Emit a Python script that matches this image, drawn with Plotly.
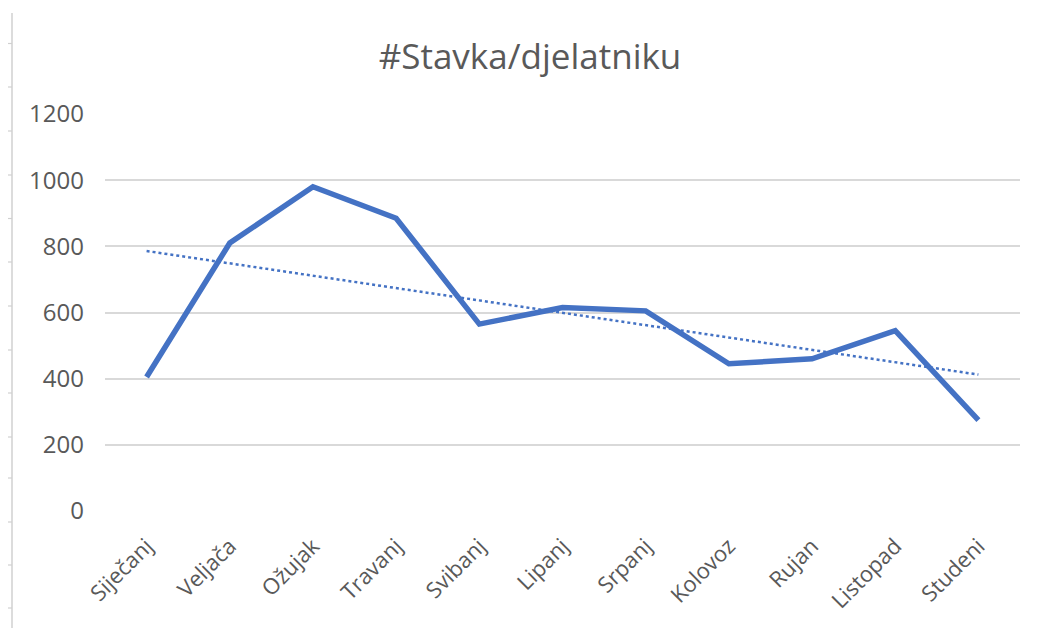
import numpy as np
import plotly.graph_objects as go

months = ["Siječanj", "Veljača", "Ožujak", "Travanj", "Svibanj", "Lipanj",
          "Srpanj", "Kolovoz", "Rujan", "Listopad", "Studeni"]
values = [405, 810, 980, 885, 565, 615, 605, 445, 460, 545, 275]
y_ticks = [0, 200, 400, 600, 800, 1000, 1200]
title_text = "#Stavka/djelatniku"

# linear trendline (least squares) derived from the series
idx = np.arange(len(values))
slope, intercept = np.polyfit(idx, values, 1)
trend = slope * idx + intercept

FONT = "Open Sans, Noto Sans, Liberation Sans, sans-serif"
GREY = "#595959"

# page body has an 8px margin, so the figure is sized to fit the window
OFF = 8
W, H = 1042 - OFF, 628 - OFF
L, R, T, B = 105 - OFF, 1042 - 1020, 114 - OFF, H - (511 - OFF)

fig = go.Figure()
fig.add_trace(go.Scatter(x=months, y=trend, mode="lines",
                         line=dict(color="#4472C4", width=2.5, dash="dot"),
                         showlegend=False, hoverinfo="skip"))
fig.add_trace(go.Scatter(x=months, y=values, mode="lines",
                         line=dict(color="#4472C4", width=5.5),
                         showlegend=False))

fig.update_layout(
    width=W, height=H,
    margin=dict(l=L, r=R, t=T, b=B, autoexpand=False),
    paper_bgcolor="white", plot_bgcolor="white",
    title=dict(text=title_text, x=(530 - OFF) / W, xanchor="center",
               y=1 - (57 - OFF) / H, yanchor="middle",
               font=dict(family=FONT, size=35, color=GREY)),
    font=dict(family=FONT, color=GREY),
    xaxis=dict(type="category", range=[-0.5, len(months) - 0.5],
               showgrid=False, showline=False, zeroline=False,
               tickangle=-45, tickfont=dict(size=22, color=GREY), ticks="",
               ticklabelstandoff=17, automargin=False),
    yaxis=dict(range=[0, 1200], tickvals=y_ticks, showgrid=True, gridcolor="#d9d9d9",
               gridwidth=1.5, zeroline=False, showline=False, ticks="",
               tickfont=dict(size=24, color=GREY), ticklabelstandoff=20,
               automargin=False),
)

# left spreadsheet border line with row ticks (target window pixels)
pw = W - L - R
ph = H - T - B
def px_x(x):
    return (x - OFF - L) / pw
def px_y(y):
    return (H - B - (y - OFF)) / ph
deco = [dict(type="line", xref="paper", yref="paper",
             x0=px_x(12), x1=px_x(12), y0=px_y(13), y1=px_y(640),
             line=dict(color="#d0d0d0", width=1.5))]
for ty in [43.5, 87, 131, 175, 218.5, 262, 306, 350, 393, 437, 478, 522, 565, 608]:
    deco.append(dict(type="line", xref="paper", yref="paper",
                     x0=px_x(6), x1=px_x(12), y0=px_y(ty), y1=px_y(ty),
                     line=dict(color="#d0d0d0", width=1.2)))
fig.update_layout(shapes=deco)

fig.write_html("out.html")
